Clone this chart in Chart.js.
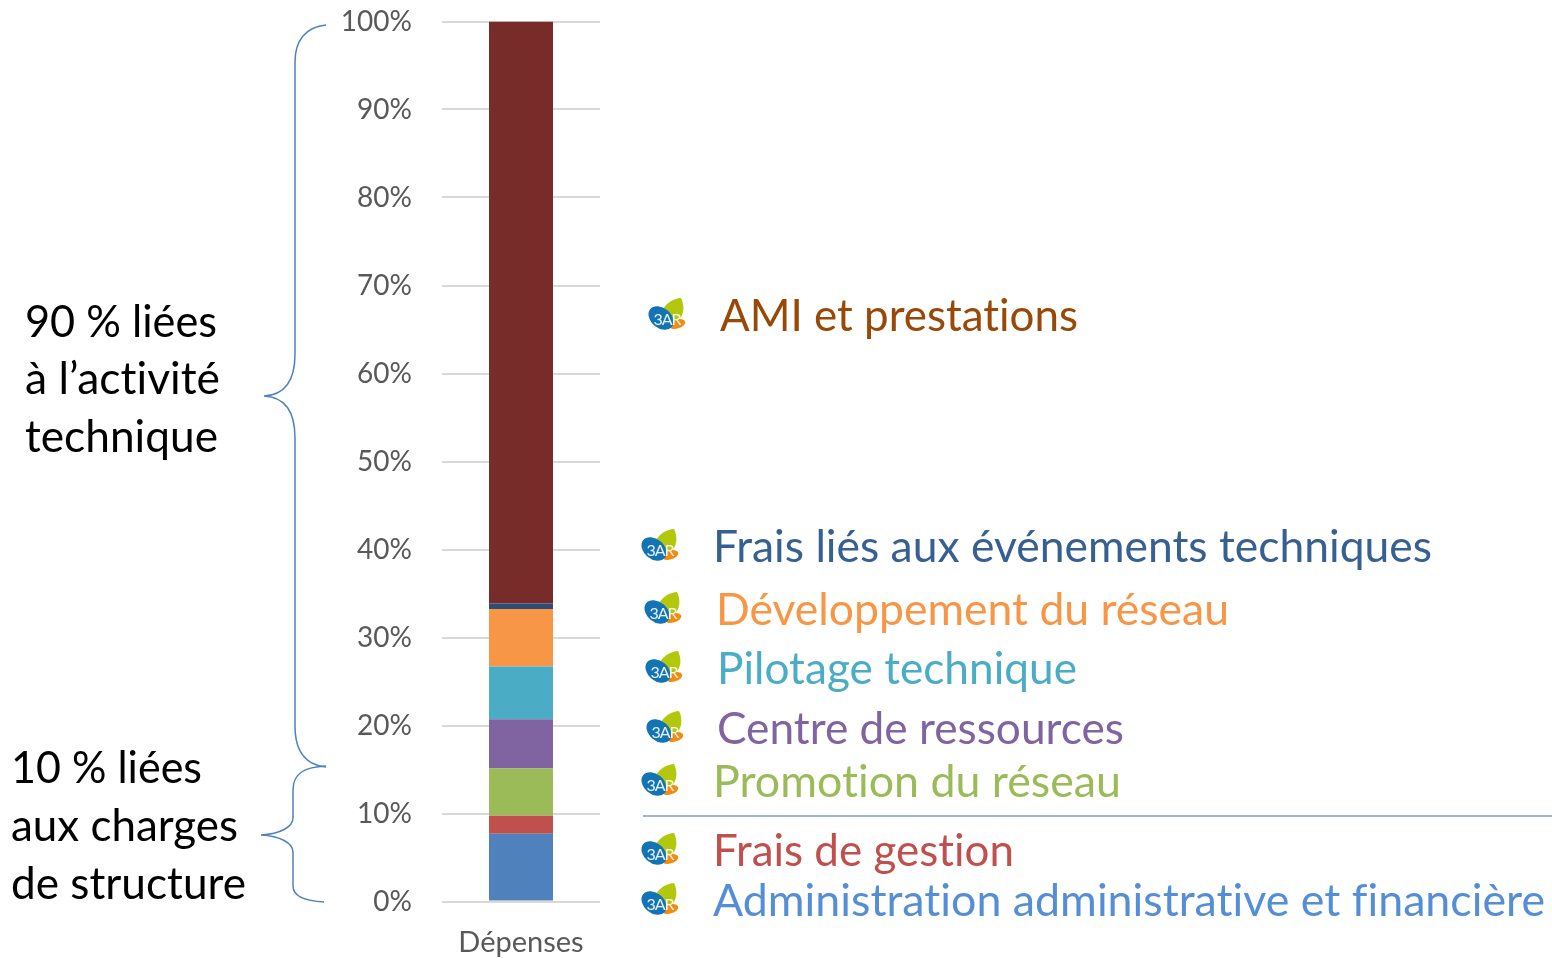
<!DOCTYPE html>
<html lang="fr">
<head>
<meta charset="utf-8">
<title>Dépenses</title>
<script src="https://cdn.jsdelivr.net/npm/chart.js@4"></script>
<style>
  html, body { margin: 0; padding: 0; background: #fff; overflow: hidden; }
  #wrap { position: relative; width: 1552px; height: 958px; }
  #chart, #notes { position: absolute; left: 0; top: 0; }
  #notes text { font-family: Lato, sans-serif; font-variant-ligatures: none; }
</style>
</head>
<body>
<div id="wrap">
  <canvas id="chart" width="1552" height="958"></canvas>
  <svg id="notes" width="1552" height="958" xmlns="http://www.w3.org/2000/svg">
    <defs>
      <g id="logo">
        <path d="M14 -16 C18 -8 17 1 11 7 C6 11 -1 11 -6 8 C-9 -2 0 -15 14 -16Z" fill="#b3c70d"/>
        <ellipse cx="10" cy="10" rx="8.5" ry="4.5" transform="rotate(-15 10 10)" fill="#f28c10"/>
        <ellipse cx="-6" cy="4" rx="14" ry="10" transform="rotate(40 -6 4)" fill="#1274b4"/>
        <text x="0" y="11" text-anchor="middle" font-size="16" letter-spacing="-1" fill="#fff" opacity="0.9">3AR</text>
      </g>
    </defs>
    <path d="M326 25 C306 27 295 40 295 62 L295 354 C295 380 285 395 264 396 C285 397 295 412 295 438 L295 726 C295 752 306 765 326 767" fill="none" stroke="#4f81bd" stroke-width="1.5"/>
    <path d="M326 766 C305 767 293 773 293 790 L293 818 C293 827 280 834 261 835 C280 836 293 843 293 852 L293 886 C293 896 305 901 324 902" fill="none" stroke="#4f81bd" stroke-width="1.5"/>
    <line x1="643" y1="816" x2="1552" y2="816" stroke="#7f9bc4" stroke-width="1.5"/>
  </svg>
</div>
<script>
const categories = ['Dépenses'];
const seriesNames = [
  'Administration administrative et financière',
  'Frais de gestion',
  'Promotion du réseau',
  'Centre de ressources',
  'Pilotage technique',
  'Développement du réseau',
  'Frais liés aux événements techniques',
  'AMI et prestations'
];
const seriesValues = [7.7, 2.05, 5.35, 5.6, 6.0, 6.55, 0.6, 66.15];
const barColors = ['#4f81bd', '#c0504d', '#9bbb59', '#8064a2', '#4bacc6', '#f79646', '#2c4d75', '#772c2a'];
const textColors = ['#558ed5', '#c0504d', '#9bbb59', '#8064a2', '#4bacc6', '#f79646', '#376092', '#984807'];

const labelX = [713, 713, 713, 717, 717, 716, 713, 720];
const labelBase = [915.5, 865.5, 796.5, 743.5, 683.5, 624.5, 561.5, 330.5];
const labelWidth = [832, 301, 408, 407, 360, 513, 719, 358];
const logoX = [660, 660, 660, 665, 664, 663, 660, 667];
const logoY = [899, 849, 780, 727, 667, 608, 545, 314];

const sideLines = ['90 % liées', 'à l’activité', 'technique', '10 % liées', 'aux charges', 'de structure'];
const sideX = [25, 25, 25, 11, 11, 11];
const sideBase = [336.5, 393.5, 451.5, 782.5, 840.5, 898.5];
const sideWidth = [192, 195, 193, 191, 227, 235];

const svgNS = 'http://www.w3.org/2000/svg';
const notes = document.getElementById('notes');

function addText(str, x, y, w, color) {
  const t = document.createElementNS(svgNS, 'text');
  t.textContent = str;
  t.setAttribute('x', x);
  t.setAttribute('y', y);
  t.setAttribute('font-size', 44);
  t.setAttribute('fill', color);
  t.setAttribute('textLength', w);
  t.setAttribute('lengthAdjust', 'spacingAndGlyphs');
  notes.appendChild(t);
}

seriesNames.forEach(function (name, i) {
  const u = document.createElementNS(svgNS, 'use');
  u.setAttribute('href', '#logo');
  u.setAttribute('x', logoX[i]);
  u.setAttribute('y', logoY[i]);
  notes.appendChild(u);
  addText(name, labelX[i], labelBase[i], labelWidth[i], textColors[i]);
});

sideLines.forEach(function (line, i) {
  addText(line, sideX[i], sideBase[i], sideWidth[i], '#000000');
});

const ctx = document.getElementById('chart').getContext('2d');
new Chart(ctx, {
  type: 'bar',
  data: {
    labels: categories,
    datasets: seriesNames.map(function (name, i) {
      return {
        label: name,
        data: [seriesValues[i]],
        backgroundColor: barColors[i],
        barPercentage: 0.405,
        categoryPercentage: 1
      };
    })
  },
  options: {
    responsive: false,
    animation: false,
    layout: { padding: { top: 21.5, right: 952, bottom: 0, left: 0 } },
    plugins: { legend: { display: false }, tooltip: { enabled: false } },
    scales: {
      x: {
        stacked: true,
        grid: { display: false },
        border: { display: false },
        ticks: { color: '#595959', font: { family: 'Lato', size: 29 }, padding: 16 },
        afterFit: function (s) { s.height = 56.5; }
      },
      y: {
        stacked: true,
        min: 0,
        max: 100,
        grid: { color: '#d9d9d9', lineWidth: 2, drawTicks: false },
        border: { display: false },
        ticks: {
          stepSize: 10,
          color: '#595959',
          font: { family: 'Lato', size: 28 },
          padding: 30,
          callback: function (v) { return v + '%'; }
        },
        afterFit: function (s) {
          // keep the plot area where the reference has it, no extra room for half labels
          s.width = 442;
          s.paddingTop = 0;
          s.paddingBottom = 0;
        }
      }
    }
  }
});
</script>
</body>
</html>
